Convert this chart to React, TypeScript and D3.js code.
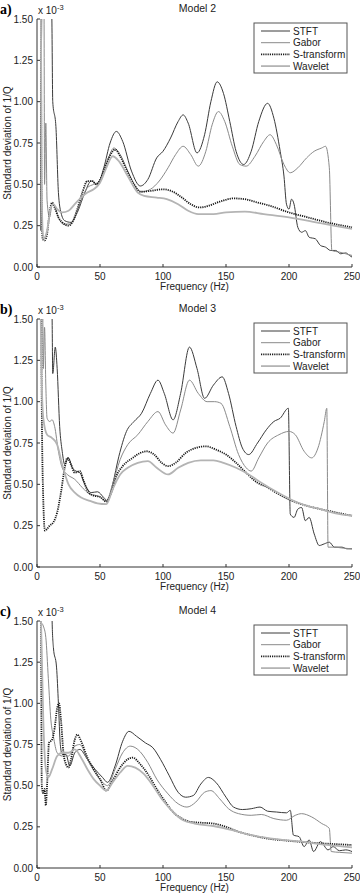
import React from "react";
import * as d3 from "d3";

// each series: [frequency Hz, std of 1/Q (x 1e-3)]
const m2Stft: [number, number][] = [
  [3, 0.22], [4, 1.7], [11, 1.7], [11.8, 1.5], [12.5, 1.0], [15, 0.85], [17, 0.45], [19, 0.33], [22, 0.28],
  [27, 0.27], [32, 0.33], [38, 0.45], [43, 0.52], [48, 0.5], [53, 0.6], [58, 0.75], [63, 0.82], [68, 0.76],
  [75, 0.58], [82, 0.49], [88, 0.53], [95, 0.66], [100, 0.7], [106, 0.78], [112, 0.88], [116, 0.92],
  [120, 0.87], [127, 0.69], [133, 0.8], [138, 1.0], [143, 1.12], [148, 1.05], [153, 0.88], [158, 0.7],
  [164, 0.62], [170, 0.7], [176, 0.88], [183, 0.99], [188, 0.9], [193, 0.7], [196, 0.55], [198, 0.38],
  [200, 0.35], [202, 0.41], [204, 0.38], [207, 0.24], [210, 0.21], [213, 0.22], [216, 0.18], [221, 0.17],
  [225, 0.13], [229, 0.12], [233, 0.1], [237, 0.1], [241, 0.08], [245, 0.085], [248, 0.07], [250, 0.06],
];
const m2Gabor: [number, number][] = [
  [3, 0.25], [4, 1.7], [5.5, 1.7], [6, 0.5], [7, 0.87], [8, 0.4], [10, 0.3], [12, 0.38], [14, 0.37],
  [17, 0.3], [21, 0.26], [26, 0.26], [30, 0.3], [35, 0.4], [40, 0.48], [45, 0.5], [50, 0.52], [55, 0.62],
  [61, 0.72], [66, 0.68], [72, 0.58], [78, 0.49], [83, 0.455], [90, 0.47], [97, 0.52], [104, 0.6],
  [110, 0.68], [116, 0.73], [122, 0.68], [128, 0.61], [134, 0.7], [139, 0.86], [144, 0.94], [149, 0.88],
  [155, 0.73], [161, 0.62], [166, 0.61], [173, 0.67], [180, 0.76], [185, 0.8], [190, 0.74], [196, 0.62],
  [201, 0.57], [207, 0.6], [214, 0.66], [220, 0.7], [226, 0.72], [229, 0.73], [232, 0.6], [234, 0.1],
  [240, 0.09], [245, 0.08], [250, 0.07],
];
const m2Strans: [number, number][] = [
  [1.5, 1.7], [3, 1.7], [3.5, 0.5], [4.5, 0.17], [6, 0.16], [8, 0.2], [10, 0.33], [12, 0.39], [14, 0.36],
  [17, 0.3], [20, 0.27], [25, 0.25], [28, 0.27], [32, 0.35], [36, 0.45], [40, 0.52], [44, 0.52], [47, 0.5],
  [52, 0.56], [57, 0.66], [62, 0.71], [66, 0.67], [71, 0.59], [77, 0.5], [82, 0.455], [90, 0.46],
  [100, 0.47], [108, 0.455], [115, 0.42], [122, 0.38], [129, 0.36], [136, 0.37], [145, 0.395],
  [156, 0.415], [165, 0.41], [175, 0.39], [185, 0.37], [200, 0.33], [215, 0.3], [230, 0.27], [250, 0.24],
];
const m2Wavelet: [number, number][] = [
  [1.5, 1.7], [3, 1.7], [3.8, 0.4], [5, 0.17], [8, 0.22], [11, 0.36], [13, 0.38], [16, 0.35], [20, 0.33],
  [25, 0.34], [30, 0.38], [35, 0.42], [40, 0.45], [45, 0.47], [50, 0.51], [55, 0.6], [60, 0.67],
  [65, 0.64], [72, 0.55], [80, 0.45], [85, 0.43], [95, 0.42], [103, 0.41], [112, 0.38], [120, 0.34],
  [128, 0.32], [140, 0.32], [150, 0.33], [165, 0.335], [180, 0.32], [200, 0.3], [225, 0.265], [250, 0.23],
];

const m3Stft: [number, number][] = [
  [11.5, 1.7], [12, 1.5], [12.5, 1.17], [14.5, 1.33], [16, 1.2], [18, 0.85], [20, 0.7], [22, 0.62],
  [25, 0.66], [28, 0.6], [31, 0.58], [34, 0.57], [38, 0.5], [43, 0.45], [48, 0.455], [53, 0.42],
  [56, 0.4], [60, 0.5], [65, 0.67], [71, 0.82], [77, 0.88], [83, 0.93], [90, 1.05], [96, 1.13],
  [101, 1.05], [108, 0.89], [114, 1.05], [121, 1.33], [127, 1.2], [133, 1.02], [140, 1.1], [147, 1.15],
  [152, 1.05], [158, 0.85], [163, 0.72], [168, 0.68], [175, 0.75], [182, 0.83], [188, 0.88], [193, 0.9],
  [199.5, 0.96], [201, 0.32], [204, 0.3], [207, 0.35], [210, 0.36], [213, 0.28], [216, 0.3], [220, 0.2],
  [224, 0.13], [228, 0.14], [232, 0.15], [236, 0.12], [242, 0.12], [246, 0.11], [250, 0.11],
];
const m3Gabor: [number, number][] = [
  [4.5, 1.7], [5, 1.2], [6, 1.45], [7, 1.1], [8, 0.9], [10, 0.88], [12, 0.89], [14, 0.85], [17, 0.7],
  [20, 0.6], [24, 0.56], [30, 0.53], [36, 0.48], [42, 0.44], [48, 0.43], [55, 0.4], [60, 0.5], [66, 0.65],
  [72, 0.74], [80, 0.8], [88, 0.88], [96, 0.94], [102, 0.86], [108, 0.81], [114, 0.95], [121, 1.13],
  [128, 1.05], [135, 1.0], [141, 1.0], [146, 0.99], [153, 0.85], [160, 0.68], [166, 0.6], [170, 0.58],
  [176, 0.66], [183, 0.75], [192, 0.8], [200, 0.82], [205, 0.8], [212, 0.7], [218, 0.66], [223, 0.72],
  [228, 0.88], [230, 0.96], [231, 0.12], [236, 0.12], [242, 0.115], [250, 0.11],
];
const m3Strans: [number, number][] = [
  [1, 1.7], [3, 1.7], [4, 0.8], [5, 0.4], [6.3, 0.22], [8, 0.23], [10, 0.25], [13, 0.27], [16, 0.33],
  [19, 0.45], [22, 0.6], [24, 0.66], [27, 0.62], [30, 0.57], [34, 0.58], [37, 0.52], [41, 0.45],
  [46, 0.43], [50, 0.425], [55, 0.395], [59, 0.45], [63, 0.55], [68, 0.61], [76, 0.66], [82, 0.69],
  [87, 0.7], [93, 0.68], [99, 0.63], [104, 0.61], [110, 0.63], [118, 0.69], [126, 0.72], [134, 0.73],
  [142, 0.71], [150, 0.68], [158, 0.63], [166, 0.57], [175, 0.51], [182, 0.485], [192, 0.44],
  [201, 0.405], [212, 0.375], [225, 0.35], [237, 0.33], [250, 0.31],
];
const m3Wavelet: [number, number][] = [
  [1, 1.7], [2.5, 1.7], [3.5, 1.2], [5, 0.9], [8, 0.8], [12, 0.78], [16, 0.74], [20, 0.62], [25, 0.5],
  [30, 0.45], [35, 0.42], [42, 0.4], [48, 0.385], [55, 0.38], [60, 0.47], [66, 0.56], [72, 0.6],
  [80, 0.63], [88, 0.64], [95, 0.6], [104, 0.56], [112, 0.6], [120, 0.63], [130, 0.645], [140, 0.645],
  [148, 0.63], [158, 0.6], [168, 0.56], [178, 0.51], [190, 0.455], [201, 0.41], [212, 0.375],
  [225, 0.35], [237, 0.325], [250, 0.31],
];

const m4Stft: [number, number][] = [
  [11.5, 1.7], [12, 1.5], [13, 1.34], [15.5, 1.22], [17, 1.0], [18.5, 0.75], [20, 0.69], [23, 0.69],
  [26, 0.62], [30, 0.7], [34, 0.72], [40, 0.66], [46, 0.6], [52, 0.55], [56, 0.52], [62, 0.62],
  [68, 0.77], [73, 0.83], [79, 0.8], [86, 0.76], [92, 0.73], [98, 0.66], [105, 0.56], [112, 0.46],
  [118, 0.43], [124, 0.44], [130, 0.51], [136, 0.55], [142, 0.52], [150, 0.43], [156, 0.37],
  [163, 0.355], [170, 0.36], [177, 0.37], [183, 0.345], [190, 0.34], [198, 0.335], [201, 0.35],
  [203.5, 0.2], [208, 0.19], [212, 0.13], [216, 0.17], [219.5, 0.1], [225, 0.16], [231, 0.11],
  [235, 0.13], [240, 0.105], [245, 0.11], [250, 0.1],
];
const m4Gabor: [number, number][] = [
  [1, 1.7], [2.5, 1.7], [3, 1.5], [5, 1.47], [7, 1.4], [9, 1.15], [11, 0.9], [13, 0.8], [16, 0.7],
  [20, 0.68], [25, 0.68], [30, 0.74], [34, 0.75], [40, 0.66], [46, 0.58], [52, 0.52], [56, 0.5],
  [62, 0.6], [68, 0.7], [74, 0.74], [80, 0.72], [88, 0.64], [95, 0.54], [104, 0.45], [112, 0.39],
  [119, 0.37], [126, 0.4], [133, 0.46], [138, 0.47], [145, 0.42], [152, 0.36], [160, 0.33], [170, 0.32],
  [178, 0.325], [188, 0.3], [198, 0.29], [205, 0.32], [210, 0.33], [218, 0.31], [226, 0.27],
  [232, 0.24], [233.5, 0.1], [240, 0.095], [250, 0.09],
];
const m4Strans: [number, number][] = [
  [1, 1.7], [3, 1.7], [3.8, 0.5], [5, 0.45], [6, 0.48], [7, 0.38], [8, 0.5], [9.5, 0.76], [12, 0.78],
  [14, 0.85], [16, 0.97], [17.5, 1.0], [19, 0.9], [21, 0.7], [23, 0.63], [25, 0.61], [27, 0.66],
  [30, 0.78], [32, 0.81], [35, 0.77], [40, 0.67], [45, 0.6], [50, 0.54], [55, 0.47], [60, 0.53],
  [66, 0.61], [72, 0.66], [76, 0.67], [82, 0.63], [88, 0.57], [95, 0.48], [102, 0.4], [108, 0.34],
  [115, 0.3], [122, 0.28], [130, 0.275], [140, 0.27], [150, 0.25], [160, 0.22], [170, 0.2],
  [182, 0.18], [200, 0.165], [225, 0.15], [250, 0.14],
];
const m4Wavelet: [number, number][] = [
  [1, 1.7], [2.5, 1.7], [3.5, 1.4], [5, 0.9], [7, 0.6], [9, 0.55], [12, 0.6], [16, 0.68], [20, 0.7],
  [25, 0.7], [30, 0.72], [35, 0.67], [40, 0.6], [45, 0.54], [50, 0.5], [55, 0.47], [60, 0.52],
  [66, 0.58], [72, 0.62], [78, 0.61], [85, 0.57], [92, 0.5], [100, 0.41], [108, 0.34], [116, 0.29],
  [125, 0.27], [140, 0.255], [155, 0.23], [170, 0.2], [190, 0.175], [210, 0.16], [230, 0.14], [250, 0.125],
];

const seriesNames = ["STFT", "Gabor", "S-transform", "Wavelet"];
const xTicks = [0, 50, 100, 150, 200, 250];
const yTicks = [0, 0.25, 0.5, 0.75, 1.0, 1.25, 1.5];

const styles = [
  { stroke: "#3a3a3a", width: 1, dash: "" },
  { stroke: "#8a8a8a", width: 1, dash: "" },
  { stroke: "#1a1a1a", width: 1.8, dash: "1.2,1" },
  { stroke: "#b4b4b4", width: 1.8, dash: "" },
];

const FONT = "'Liberation Sans', Arial, sans-serif";

const panels = [
  { tag: "a)", title: "Model 2", top: 19, bottom: 267, data: [m2Stft, m2Gabor, m2Strans, m2Wavelet] },
  { tag: "b)", title: "Model 3", top: 319, bottom: 567, data: [m3Stft, m3Gabor, m3Strans, m3Wavelet] },
  { tag: "c)", title: "Model 4", top: 621, bottom: 868, data: [m4Stft, m4Gabor, m4Strans, m4Wavelet] },
];

const LEFT = 37;
const RIGHT = 352;

function Panel({ p, idx }) {
  const x = d3.scaleLinear().domain([0, 250]).range([LEFT, RIGHT]);
  const y = d3.scaleLinear().domain([0, 1.5]).range([p.bottom, p.top]);
  const line = d3
    .line<[number, number]>()
    .x((d) => x(d[0]))
    .y((d) => y(d[1]))
    .curve(d3.curveMonotoneX);
  const clipId = `clip-${idx}`;
  const midY = (p.top + p.bottom) / 2;
  const lgX = 254;
  const lgY = p.top + 4;

  return (
    <g>
      <defs>
        <clipPath id={clipId}>
          <rect x={LEFT} y={p.top} width={RIGHT - LEFT + 2} height={p.bottom - p.top} />
        </clipPath>
      </defs>
      <text x={0} y={p.top - 5} fontFamily="'Liberation Serif', 'Times New Roman', serif" fontWeight="bold" fontSize={14}>
        {p.tag}
      </text>
      <text x={(LEFT + RIGHT) / 2 + 3} y={p.top - 7} fontFamily={FONT} fontSize={10.5} textAnchor="middle" fill="#222">
        {p.title}
      </text>
      <text x={38} y={p.top - 5} fontFamily={FONT} fontSize={10} fill="#222">
        x 10<tspan dy={-4} fontSize={7.5}>-3</tspan>
      </text>

      <g clipPath={`url(#${clipId})`}>
        {p.data.map((s, i) => (
          <path
            key={i}
            d={line(s) || ""}
            fill="none"
            stroke={styles[i].stroke}
            strokeWidth={styles[i].width}
            strokeDasharray={styles[i].dash || undefined}
          />
        ))}
      </g>

      {/* axes */}
      <line x1={LEFT} x2={LEFT} y1={p.top} y2={p.bottom} stroke="#333" />
      <line x1={LEFT} x2={RIGHT} y1={p.bottom} y2={p.bottom} stroke="#333" />
      {yTicks.map((t) => (
        <g key={t}>
          <line x1={LEFT} x2={LEFT + 3} y1={y(t)} y2={y(t)} stroke="#333" />
          <text x={LEFT - 4} y={y(t) + 3.5} textAnchor="end" fontFamily={FONT} fontSize={10} fill="#222">
            {d3.format(".2f")(t)}
          </text>
        </g>
      ))}
      {xTicks.map((t) => (
        <g key={t}>
          <line x1={x(t)} x2={x(t)} y1={p.bottom} y2={p.bottom - 3} stroke="#333" />
          <text x={x(t)} y={p.bottom + 12.5} textAnchor="middle" fontFamily={FONT} fontSize={10} fill="#222">
            {t}
          </text>
        </g>
      ))}
      <text x={(LEFT + RIGHT) / 2} y={p.bottom + 23} textAnchor="middle" fontFamily={FONT} fontSize={10} fill="#222">
        Frequency (Hz)
      </text>
      <text
        transform={`translate(11, ${midY}) rotate(-90)`}
        textAnchor="middle"
        fontFamily={FONT}
        fontSize={10}
        fill="#222"
      >
        Standard deviation of 1/Q
      </text>

      {/* legend */}
      <rect x={lgX} y={lgY} width={93} height={50} fill="#fff" stroke="#555" strokeWidth={1} />
      {seriesNames.map((n, i) => {
        const ry = lgY + 8 + i * 11.7;
        return (
          <g key={n}>
            <line
              x1={lgX + 7}
              x2={lgX + 36}
              y1={ry}
              y2={ry}
              stroke={styles[i].stroke}
              strokeWidth={styles[i].width}
              strokeDasharray={styles[i].dash || undefined}
            />
            <text x={lgX + 39} y={ry + 3.6} fontFamily={FONT} fontSize={10} fill="#222">
              {n}
            </text>
          </g>
        );
      })}
    </g>
  );
}

export default function App() {
  return (
    <svg width={360} height={893} style={{ position: "absolute", left: 0, top: 0, background: "#fff" }}>
      <rect width={360} height={893} fill="#fff" />
      {panels.map((p, i) => (
        <Panel key={p.title} p={p} idx={i} />
      ))}
    </svg>
  );
}
